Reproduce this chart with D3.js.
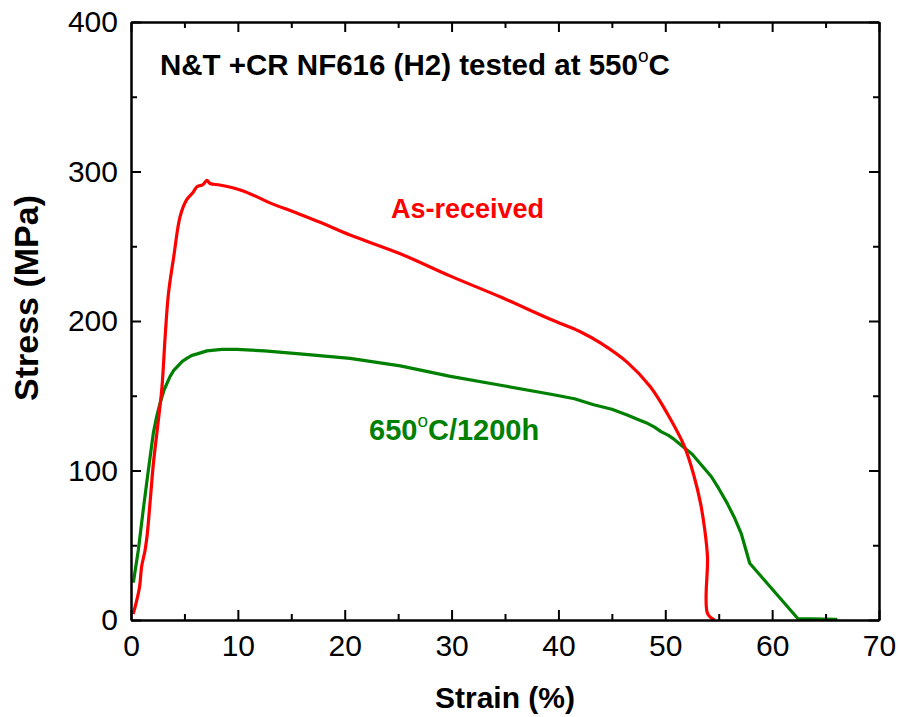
<!DOCTYPE html>
<html>
<head>
<meta charset="utf-8">
<script src="https://cdn.jsdelivr.net/npm/d3@7"></script>
<style>
    body { margin: 0; background: #fff; }
    svg { font-family: "Liberation Sans", Arial, sans-serif; }
    .axis path { stroke: #000; stroke-width: 2; }
    .axis line { stroke: #000; stroke-width: 2; }
    .axis text { fill: #000; }
    .axis-label { font-size: 30px; font-weight: bold; }
</style>
</head>
<body>
<script>
// Set chart dimensions
const width = 898;
const height = 717;
const margin = { top: 22, right: 19, bottom: 97, left: 131 };

// Tick values
const xTicks = [0, 10, 20, 30, 40, 50, 60, 70];
const xMinor = [5, 15, 25, 35, 45, 55, 65];
const yTicks = [0, 100, 200, 300, 400];
const yMinor = [50, 150, 250, 350];

// As-received curve (strain %, stress MPa)
const asStrain = [0.2, 0.5, 0.8, 1.0, 1.3, 1.5, 1.8, 2.1, 2.6, 2.9, 3.2, 3.5, 4.0, 4.6, 5.2, 5.8, 6.2, 6.7, 7.1, 7.4, 8.3, 9.6, 10.5, 11.8, 13.0, 15.2, 17.7, 20.5, 25.2, 29.9, 34.6, 39.3, 42.0, 44.0, 46.5, 48.6, 50.2, 51.8, 52.7, 53.3, 53.7, 53.95, 53.95, 54.6];
const asStress = [4, 12, 22, 36, 46, 56, 80, 105, 136, 156, 190, 218, 243, 270, 281, 286, 290, 291, 294, 292, 291, 289, 287, 283, 279, 273, 266, 257.5, 245, 230, 216, 201, 193, 185, 172, 156, 138, 116, 96, 78, 60, 42, 4.5, 0];

// 650C/1200h curve
const agedStrain = [0.22, 0.69, 1.15, 1.62, 2.09, 2.4, 2.72, 3.1, 3.66, 4.0, 4.4, 4.8, 5.22, 5.7, 6.2, 7.1, 8.5, 9.9, 12.5, 15.8, 20.5, 25.2, 29.9, 34.6, 39.3, 41.5, 43.3, 45.0, 46.5, 47.5, 48.2, 49.0, 49.6, 50.3, 50.8, 51.3, 51.8, 52.5, 53.1, 53.7, 54.3, 55.0, 55.8, 56.5, 57.1, 57.5, 57.9, 62.4, 66.1];
const agedStress = [25, 47, 74, 100, 125, 136, 145, 154, 163, 167, 170, 173, 175, 177, 178, 180, 181, 181, 180, 178, 175, 170, 163, 157, 151, 148, 144, 141, 137, 134, 132, 129, 126, 123.5, 121, 118, 115, 111, 106, 101, 96, 88, 78, 68, 58, 48, 38, 1, 0.5];

const svg = d3.select("body")
    .append("svg")
    .attr("width", width)
    .attr("height", height);

// Scales
const xScale = d3.scaleLinear()
    .domain([0, 70])
    .range([margin.left, width - margin.right]);

const yScale = d3.scaleLinear()
    .domain([0, 400])
    .range([height - margin.bottom, margin.top]);

// Curves
const makeLine = curve => d3.line()
    .x(d => xScale(d[0]))
    .y(d => yScale(d[1]))
    .curve(curve);

svg.append("path")
    .datum(agedStrain.map((v, i) => [v, agedStress[i]]))
    .attr("fill", "none")
    .attr("stroke", "#008000")
    .attr("stroke-width", 3.2)
    .attr("stroke-linejoin", "round")
    .attr("d", makeLine(d3.curveLinear));

svg.append("path")
    .datum(asStrain.map((v, i) => [v, asStress[i]]))
    .attr("fill", "none")
    .attr("stroke", "#ff0000")
    .attr("stroke-width", 3.2)
    .attr("stroke-linejoin", "round")
    .attr("d", makeLine(d3.curveCatmullRom.alpha(0.5)));

// Axes: major ticks with labels, minor ticks without
const bottom = height - margin.bottom;
const right = width - margin.right;

svg.append("g")
    .attr("class", "axis")
    .attr("transform", `translate(0, ${bottom})`)
    .call(d3.axisBottom(xScale).tickValues(xTicks).tickSize(-10).tickSizeOuter(0).tickPadding(15));

svg.append("g")
    .attr("class", "axis")
    .attr("transform", `translate(0, ${bottom})`)
    .call(d3.axisBottom(xScale).tickValues(xMinor).tickSize(-6).tickSizeOuter(0).tickFormat(""));

svg.append("g")
    .attr("class", "axis")
    .attr("transform", `translate(0, ${margin.top})`)
    .call(d3.axisTop(xScale).tickValues(xTicks).tickSize(-10).tickSizeOuter(0).tickFormat(""));

svg.append("g")
    .attr("class", "axis")
    .attr("transform", `translate(0, ${margin.top})`)
    .call(d3.axisTop(xScale).tickValues(xMinor).tickSize(-6).tickSizeOuter(0).tickFormat(""));

svg.append("g")
    .attr("class", "axis")
    .attr("transform", `translate(${margin.left}, 0)`)
    .call(d3.axisLeft(yScale).tickValues(yTicks).tickSize(-10).tickSizeOuter(0).tickPadding(13));

svg.append("g")
    .attr("class", "axis")
    .attr("transform", `translate(${margin.left}, 0)`)
    .call(d3.axisLeft(yScale).tickValues(yMinor).tickSize(-6).tickSizeOuter(0).tickFormat(""));

svg.append("g")
    .attr("class", "axis")
    .attr("transform", `translate(${right}, 0)`)
    .call(d3.axisRight(yScale).tickValues(yTicks).tickSize(-10).tickSizeOuter(0).tickFormat(""));

svg.append("g")
    .attr("class", "axis")
    .attr("transform", `translate(${right}, 0)`)
    .call(d3.axisRight(yScale).tickValues(yMinor).tickSize(-6).tickSizeOuter(0).tickFormat(""));

svg.selectAll(".axis text").attr("font-family", null).attr("font-size", null).style("font-size", "30px");

// Axis titles
svg.append("text")
    .attr("class", "axis-label")
    .attr("x", (margin.left + right) / 2)
    .attr("y", 708)
    .attr("text-anchor", "middle")
    .text("Strain (%)");

svg.append("text")
    .attr("class", "axis-label")
    .attr("transform", "rotate(-90)")
    .attr("x", -298)
    .attr("y", 38)
    .attr("text-anchor", "middle")
    .style("font-size", "34px")
    .text("Stress (MPa)");

// Chart title with superscript degree
const title = svg.append("text")
    .attr("class", "axis-label")
    .attr("x", 160)
    .attr("y", 75)
    .style("font-size", "29.5px");
title.append("tspan").text("N&T +CR NF616 (H2) tested at 550");
title.append("tspan").attr("dy", -13).style("font-size", "19px").style("font-weight", "normal").text("o");
title.append("tspan").attr("dy", 13).text("C");

// Series labels
svg.append("text")
    .attr("class", "axis-label")
    .attr("x", 391)
    .attr("y", 218)
    .attr("fill", "#ff0000")
    .style("font-size", "27px")
    .text("As-received");

const aged = svg.append("text")
    .attr("class", "axis-label")
    .attr("x", 369)
    .attr("y", 440)
    .attr("fill", "#008000")
    .style("font-size", "29px");
aged.append("tspan").text("650");
aged.append("tspan").attr("dy", -13).style("font-size", "19px").style("font-weight", "normal").text("o");
aged.append("tspan").attr("dy", 13).text("C/1200h");
</script>
</body>
</html>
